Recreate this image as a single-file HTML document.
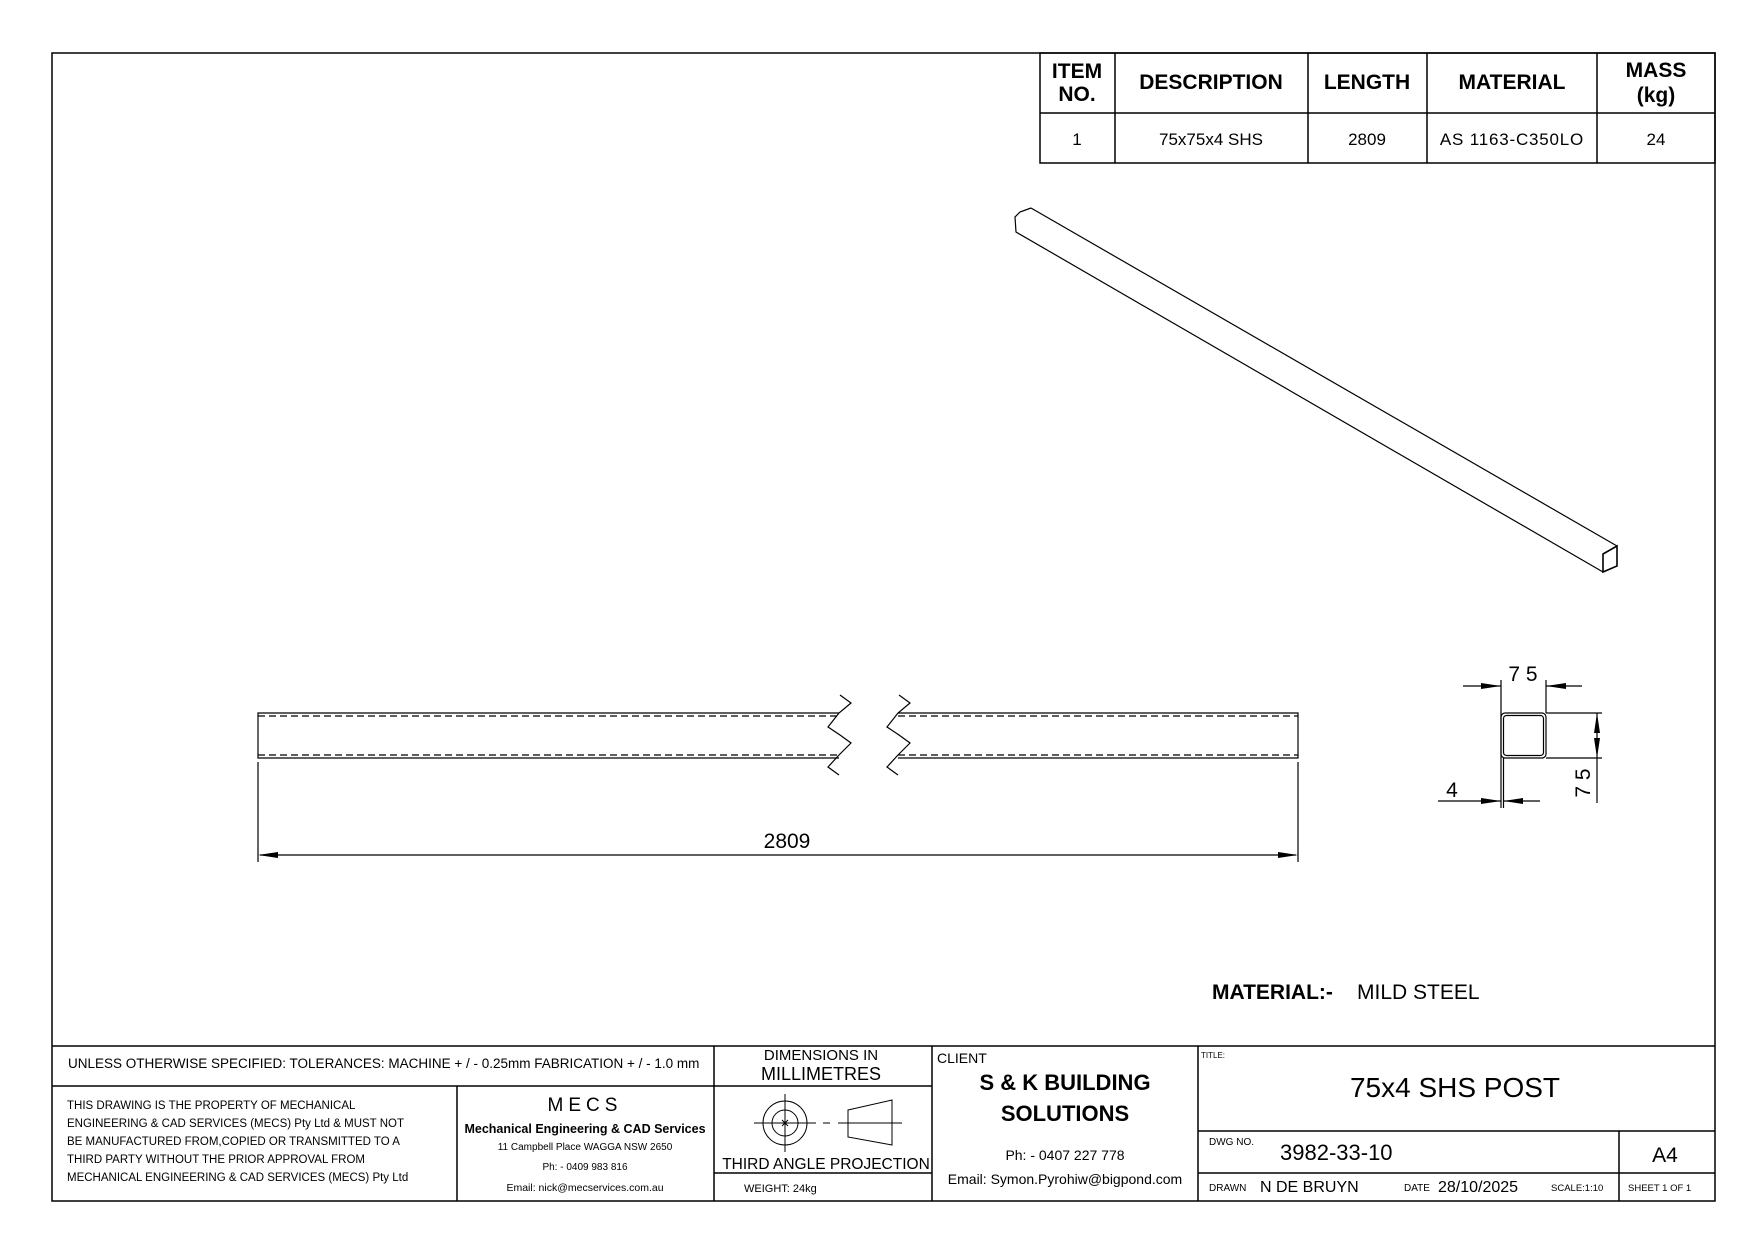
<!DOCTYPE html>
<html><head><meta charset="utf-8"><style>
html,body{margin:0;padding:0;background:#fff;}
svg{display:block;}
text{font-family:"Liberation Sans",sans-serif;fill:#000;}
</style></head><body>
<svg width="1753" height="1240" viewBox="0 0 1753 1240" xmlns="http://www.w3.org/2000/svg">
<g stroke="#000" fill="none" stroke-width="1.5">
<rect x="52" y="53" width="1663" height="1148"/>
<rect x="1040" y="53" width="675" height="110"/>
<line x1="1040" y1="113" x2="1715" y2="113"/>
<line x1="1115" y1="53" x2="1115" y2="163"/>
<line x1="1308" y1="53" x2="1308" y2="163"/>
<line x1="1427" y1="53" x2="1427" y2="163"/>
<line x1="1597" y1="53" x2="1597" y2="163"/>
</g>
<g font-weight="bold" font-size="21" text-anchor="middle">
<text x="1077" y="78">ITEM</text><text x="1077" y="101">NO.</text>
<text x="1211" y="89">DESCRIPTION</text>
<text x="1367" y="89">LENGTH</text>
<text x="1512" y="89">MATERIAL</text>
<text x="1656" y="77">MASS</text><text x="1656" y="102">(kg)</text>
</g>
<g font-size="17" text-anchor="middle">
<text x="1077" y="145">1</text>
<text x="1211" y="145">75x75x4 SHS</text>
<text x="1367" y="145">2809</text>
<text x="1512" y="145" letter-spacing="0.8">AS 1163-C350LO</text>
<text x="1656" y="145">24</text>
</g>
<g stroke="#000" fill="none" stroke-width="1.2">
<path d="M1031 208 L1020 212 L1015 217 L1016 232 L1603 572"/>
<line x1="1031" y1="208" x2="1617" y2="546"/>
<path d="M1603 554 L1617 546 L1617 566 L1603 572 Z" stroke-width="1.6"/>
</g>
<g stroke="#000" fill="none" stroke-width="1.2">
<path d="M839 713 L258 713 L258 758 L839 758"/>
<path d="M898 713 L1298 713 L1298 758 L898 758"/>
<g stroke-dasharray="7,4">
<line x1="258" y1="716" x2="839" y2="716"/><line x1="258" y1="755" x2="839" y2="755"/>
<line x1="898" y1="716" x2="1298" y2="716"/><line x1="898" y1="755" x2="1298" y2="755"/>
</g>
<polyline points="840,695 851,703 839,713 828,727 840,735 851,743 839,755 828,767 839,775"/>
<polyline points="899,695 910,703 898,713 887,727 899,735 910,743 898,755 887,767 898,775"/>
<line x1="258" y1="762" x2="258" y2="862"/>
<line x1="1298" y1="762" x2="1298" y2="862"/>
<line x1="260" y1="855" x2="1296" y2="855"/>
</g>
<path d="M258 855 L278 852 L278 858 Z M1298 855 L1278 852 L1278 858 Z" fill="#000"/>
<text x="787" y="848" font-size="21" text-anchor="middle">2809</text>
<g stroke="#000" fill="none" stroke-width="1.2">
<rect x="1501" y="713" width="45" height="45" rx="4"/>
<rect x="1503.5" y="715.5" width="40" height="40" rx="3"/>
<line x1="1501" y1="680" x2="1501" y2="808"/>
<line x1="1503.5" y1="758" x2="1503.5" y2="808"/>
<line x1="1546" y1="680" x2="1546" y2="713"/>
<line x1="1463" y1="686" x2="1501" y2="686"/>
<line x1="1546" y1="686" x2="1582" y2="686"/>
<line x1="1546" y1="713" x2="1602" y2="713"/>
<line x1="1546" y1="758" x2="1602" y2="758"/>
<line x1="1597" y1="713" x2="1597" y2="803"/>
<line x1="1438" y1="801" x2="1501" y2="801"/>
<line x1="1503.5" y1="801" x2="1540" y2="801"/>
</g>
<g fill="#000">
<path d="M1501 686 L1481 683 L1481 689 Z M1546 686 L1566 683 L1566 689 Z"/>
<path d="M1597 713 L1594 733 L1600 733 Z M1597 758 L1594 738 L1600 738 Z"/>
<path d="M1501 801 L1481 798 L1481 804 Z M1503.5 801 L1523 798 L1523 804 Z"/>
</g>
<text x="1523" y="681" font-size="21" text-anchor="middle">7 5</text>
<text x="1452" y="797" font-size="21" text-anchor="middle">4</text>
<text transform="translate(1590,783) rotate(-90)" font-size="21" text-anchor="middle">7 5</text>
<text x="1212" y="999" font-size="21" font-weight="bold">MATERIAL:-</text>
<text x="1357" y="999" font-size="21">MILD STEEL</text>
<g stroke="#000" fill="none" stroke-width="1.5">
<line x1="52" y1="1046" x2="1715" y2="1046"/>
<line x1="52" y1="1086" x2="932" y2="1086"/>
<line x1="457" y1="1086" x2="457" y2="1201"/>
<line x1="714" y1="1046" x2="714" y2="1201"/>
<line x1="932" y1="1046" x2="932" y2="1201"/>
<line x1="714" y1="1173" x2="932" y2="1173"/>
<line x1="1198" y1="1046" x2="1198" y2="1201"/>
<line x1="1198" y1="1131" x2="1715" y2="1131"/>
<line x1="1198" y1="1173" x2="1715" y2="1173"/>
<line x1="1619" y1="1131" x2="1619" y2="1201"/>
</g>
<text x="68" y="1068" font-size="13.5">UNLESS OTHERWISE SPECIFIED: TOLERANCES: MACHINE + / - 0.25mm  FABRICATION + / - 1.0 mm</text>
<g font-size="11.5">
<text x="67" y="1109">THIS DRAWING IS THE PROPERTY OF MECHANICAL</text>
<text x="67" y="1127">ENGINEERING &amp; CAD SERVICES (MECS) Pty Ltd &amp; MUST NOT</text>
<text x="67" y="1145">BE MANUFACTURED FROM,COPIED OR TRANSMITTED TO A</text>
<text x="67" y="1163">THIRD PARTY WITHOUT THE PRIOR APPROVAL FROM</text>
<text x="67" y="1181">MECHANICAL ENGINEERING &amp; CAD SERVICES (MECS) Pty Ltd</text>
</g>
<g text-anchor="middle">
<text x="585" y="1111" font-size="19" letter-spacing="5">MECS</text>
<text x="585" y="1133" font-size="12.5" font-weight="bold">Mechanical Engineering &amp; CAD Services</text>
<text x="585" y="1150" font-size="10">11 Campbell Place WAGGA NSW 2650</text>
<text x="585" y="1170" font-size="10">Ph: - 0409 983 816</text>
<text x="585" y="1191" font-size="10.5">Email: nick@mecservices.com.au</text>
<text x="821" y="1060" font-size="15">DIMENSIONS IN</text>
<text x="821" y="1080" font-size="18">MILLIMETRES</text>
<text x="826" y="1169" font-size="15.5">THIRD ANGLE PROJECTION</text>
</g>
<text x="744" y="1192" font-size="11">WEIGHT: 24kg</text>
<g stroke="#000" fill="none" stroke-width="1">
<circle cx="785" cy="1123" r="22"/><circle cx="785" cy="1123" r="13"/>
<line x1="754" y1="1123" x2="816" y2="1123"/><line x1="785" y1="1094" x2="785" y2="1152"/>
<line x1="782" y1="1120" x2="788" y2="1126"/><line x1="788" y1="1120" x2="782" y2="1126"/>
<line x1="823" y1="1123" x2="830" y2="1123"/><line x1="838" y1="1123" x2="902" y2="1123"/>
<path d="M848 1110 L892 1100 L892 1145 L848 1137 Z"/>
</g>
<text x="937" y="1063" font-size="14">CLIENT</text>
<g text-anchor="middle">
<text x="1065" y="1090" font-size="22" font-weight="bold">S &amp; K  BUILDING</text>
<text x="1065" y="1121" font-size="22" font-weight="bold">SOLUTIONS</text>
<text x="1065" y="1160" font-size="14">Ph: - 0407 227 778</text>
<text x="1065" y="1184" font-size="14">Email: Symon.Pyrohiw@bigpond.com</text>
<text x="1455" y="1097" font-size="28">75x4 SHS POST</text>
<text x="1665" y="1162" font-size="21">A4</text>
</g>
<text x="1201" y="1058" font-size="8">TITLE:</text>
<text x="1209" y="1145" font-size="10">DWG NO.</text>
<text x="1280" y="1160" font-size="22">3982-33-10</text>
<text x="1209" y="1191" font-size="10">DRAWN</text>
<text x="1260" y="1192" font-size="16">N DE BRUYN</text>
<text x="1404" y="1191" font-size="10">DATE</text>
<text x="1438" y="1192" font-size="16">28/10/2025</text>
<text x="1551" y="1191" font-size="9.5">SCALE:1:10</text>
<text x="1628" y="1191" font-size="9.5">SHEET 1 OF 1</text>
</svg>
</body></html>
